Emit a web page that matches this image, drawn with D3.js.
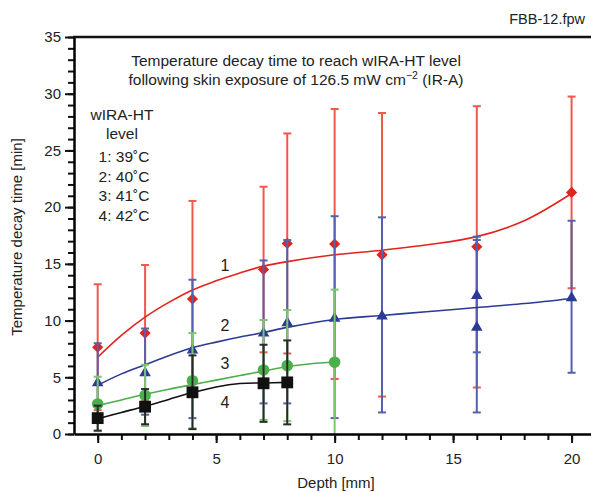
<!DOCTYPE html>
<html>
<head>
<meta charset="utf-8">
<script src="https://cdn.jsdelivr.net/npm/d3@7"></script>
<style>
  body { margin: 0; background: #fff; }
  svg text { font-family: "Liberation Sans", Arial, Helvetica, sans-serif; fill: #222; }
</style>
</head>
<body>
<div id="chart"></div>
<script>
// depths (mm) and mean / SD of decay time (min) for each wIRA-HT level
var depth1 = [0, 2, 4, 7, 8, 10, 12, 16, 20];
var mean1  = [7.65, 8.9, 11.9, 14.5, 16.8, 16.75, 15.8, 16.5, 21.3];
var sd1    = [5.55, 6.0, 8.65, 7.3, 9.7, 11.9, 12.5, 12.4, 8.45];

var depth2 = [0, 2, 4, 7, 8, 10, 12, 16, 16, 20];
var mean2  = [4.6, 5.5, 7.5, 9.0, 9.9, 10.3, 10.5, 12.3, 9.5, 12.1];
var sd2    = [3.4, 3.8, 6.1, 6.3, 7.2, 8.9, 8.6, 5.1, 7.6, 6.7];

var depth3 = [0, 2, 4, 7, 8, 10];
var mean3  = [2.65, 3.4, 4.7, 5.65, 6.03, 6.33];
var sd3    = [2.4, 2.7, 4.2, 4.4, 4.9, 6.4];

var depth4 = [0, 2, 4, 7, 8];
var mean4  = [1.4, 2.41, 3.68, 4.47, 4.55];
var sd4    = [1.1, 1.55, 3.25, 3.4, 3.7];

// fitted curves
var fit1X = [0, 1, 2, 3, 4, 5, 6, 7, 8, 10, 12, 14, 16, 18, 20];
var fit1Y = [6.77, 8.7, 10.3, 11.6, 12.7, 13.5, 14.2, 14.8, 15.2, 15.8, 16.2, 16.7, 17.4, 18.8, 21.2];
var fit2X = [0, 1, 2, 3, 4, 5, 6, 7, 8, 10, 12, 14, 16, 18, 20];
var fit2Y = [4.3, 5.3, 6.1, 6.9, 7.6, 8.1, 8.55, 8.95, 9.4, 10.1, 10.45, 10.8, 11.15, 11.5, 11.95];
var fit3X = [0, 1, 2, 3, 4, 5, 6, 7, 8, 9, 10];
var fit3Y = [2.5, 3.0, 3.5, 3.95, 4.35, 4.75, 5.15, 5.55, 5.95, 6.2, 6.35];
var fit4X = [0, 1, 2, 3, 4, 5, 6, 7, 8];
var fit4Y = [1.35, 1.9, 2.45, 3.05, 3.65, 4.15, 4.45, 4.5, 4.55];

var xMajor = [0, 5, 10, 15, 20];
var yMajor = [0, 5, 10, 15, 20, 25, 30, 35];
var legendLines = ["1: 39˚C", "2: 40˚C", "3: 41˚C", "4: 42˚C"];

var W = 591, H = 492;
var svg = d3.select("#chart").append("svg")
    .attr("width", W)
    .attr("height", H);

var x = d3.scaleLinear().domain([-1, 20.82]).range([74, 591]);
var y = d3.scaleLinear().domain([0, 35]).range([434, 37]);

var series = [
    {name: "1", xs: depth1, m: mean1, s: sd1, fx: fit1X, fy: fit1Y, mark: "diamond",
     col: "#e2231e", bar: "#f0584c", labY: 265},
    {name: "2", xs: depth2, m: mean2, s: sd2, fx: fit2X, fy: fit2Y, mark: "triangle",
     col: "#2b3a93", bar: "#5560b0", labY: 325},
    {name: "3", xs: depth3, m: mean3, s: sd3, fx: fit3X, fy: fit3Y, mark: "circle",
     col: "#4bb04b", bar: "#7cc672", labY: 363},
    {name: "4", xs: depth4, m: mean4, s: sd4, fx: fit4X, fy: fit4Y, mark: "square",
     col: "#111111", bar: "#2a2a2a", labY: 402}
];

var symbols = {
    diamond: d3.symbol().type(d3.symbolDiamond2).size(80),
    triangle: d3.symbol().type(d3.symbolTriangle).size(58),
    circle: d3.symbol().type(d3.symbolCircle).size(105),
    square: d3.symbol().type(d3.symbolSquare).size(140)
};

var line = d3.line()
    .x(function(d) { return x(d[0]); })
    .y(function(d) { return y(d[1]); })
    .curve(d3.curveCatmullRom);

var plot = svg.append("g");

series.forEach(function(sr) {
    var pts = sr.xs.map(function(d, i) {
        return {x: d, m: sr.m[i], lo: Math.max(0, sr.m[i] - sr.s[i]), hi: sr.m[i] + sr.s[i]};
    });
    var g = plot.append("g");

    // error bars
    g.selectAll(".eb").data(pts).enter().append("line")
        .attr("x1", function(d) { return x(d.x); })
        .attr("x2", function(d) { return x(d.x); })
        .attr("y1", function(d) { return y(d.lo); })
        .attr("y2", function(d) { return y(d.hi); })
        .attr("stroke", sr.bar)
        .attr("stroke-width", 2);
    var caps = [];
    pts.forEach(function(d) {
        caps.push({x: d.x, v: d.hi});
        if (d.lo > 0) caps.push({x: d.x, v: d.lo});
    });
    g.selectAll(".cap").data(caps).enter().append("line")
        .attr("x1", function(d) { return x(d.x) - 4; })
        .attr("x2", function(d) { return x(d.x) + 4; })
        .attr("y1", function(d) { return y(d.v); })
        .attr("y2", function(d) { return y(d.v); })
        .attr("stroke", sr.bar)
        .attr("stroke-width", 2);

    // fitted curve
    g.append("path")
        .datum(sr.fx.map(function(d, i) { return [d, sr.fy[i]]; }))
        .attr("d", line)
        .attr("fill", "none")
        .attr("stroke", sr.col)
        .attr("stroke-width", 1.6);

    // markers
    g.selectAll(".mk").data(pts).enter().append("path")
        .attr("d", symbols[sr.mark])
        .attr("transform", function(d) {
            var dy = sr.mark == "triangle" ? 1.2 : 0;
            return "translate(" + x(d.x) + "," + (y(d.m) + dy) + ")";
        })
        .attr("fill", sr.col);

    // curve number
    svg.append("text")
        .attr("x", 225)
        .attr("y", sr.labY + 6)
        .attr("text-anchor", "middle")
        .style("font-size", "16px")
        .text(sr.name);
});

// axes
var yMinor = svg.append("g")
    .attr("transform", "translate(74,0)")
    .call(d3.axisLeft(y).tickValues(d3.range(0, 36)).tickSize(6).tickFormat(""));
yMinor.select(".domain").remove();
var yAx = svg.append("g")
    .attr("transform", "translate(74,0)")
    .call(d3.axisLeft(y).tickValues(yMajor).tickSize(9).tickSizeOuter(0).tickPadding(4));
yAx.select(".domain").attr("stroke-width", 2.5);
yAx.selectAll("text").style("font-size", "15px").attr("fill", "#222");

var xMinor = svg.append("g")
    .attr("transform", "translate(0,434)")
    .call(d3.axisBottom(x).tickValues(d3.range(0, 21)).tickSize(6).tickFormat(""));
xMinor.select(".domain").remove();
var xAx = svg.append("g")
    .attr("transform", "translate(0,434)")
    .call(d3.axisBottom(x).tickValues(xMajor).tickSize(9).tickSizeOuter(0).tickPadding(10));
xAx.select(".domain").attr("stroke-width", 2.5);
xAx.selectAll("text").style("font-size", "15px").attr("fill", "#222");

svg.selectAll(".tick line").attr("stroke", "#111").attr("stroke-width", 2);

// top frame
svg.append("line")
    .attr("x1", 73).attr("x2", W)
    .attr("y1", y(35)).attr("y2", y(35))
    .attr("stroke", "#111").attr("stroke-width", 2.5);

// titles and labels
svg.append("text")
    .attr("x", 585).attr("y", 24)
    .attr("text-anchor", "end")
    .style("font-size", "14.5px")
    .text("FBB-12.fpw");

var title = svg.append("text")
    .attr("text-anchor", "middle")
    .style("font-size", "15.5px");
title.append("tspan").attr("x", 296).attr("y", 66)
    .text("Temperature decay time to reach wIRA-HT level");
var t2 = title.append("tspan").attr("x", 296).attr("y", 85);
t2.append("tspan").text("following skin exposure of 126.5 mW cm");
t2.append("tspan").attr("dy", -6).style("font-size", "10.5px").text("−2");
t2.append("tspan").attr("dy", 6).text(" (IR-A)");

var legend = svg.append("g").style("font-size", "15.5px");
legend.append("text").attr("x", 122).attr("y", 120).attr("text-anchor", "middle").text("wIRA-HT");
legend.append("text").attr("x", 122).attr("y", 139).attr("text-anchor", "middle").text("level");
legend.selectAll(".lg").data(legendLines).enter().append("text")
    .attr("x", 124)
    .attr("y", function(d, i) { return 162 + i * 19.7; })
    .attr("text-anchor", "middle")
    .text(function(d) { return d; });

svg.append("text")
    .attr("transform", "translate(22,237) rotate(-90)")
    .attr("text-anchor", "middle")
    .style("font-size", "15px")
    .text("Temperature decay time [min]");

svg.append("text")
    .attr("x", 336).attr("y", 488)
    .attr("text-anchor", "middle")
    .style("font-size", "15px")
    .text("Depth [mm]");
</script>
</body>
</html>
